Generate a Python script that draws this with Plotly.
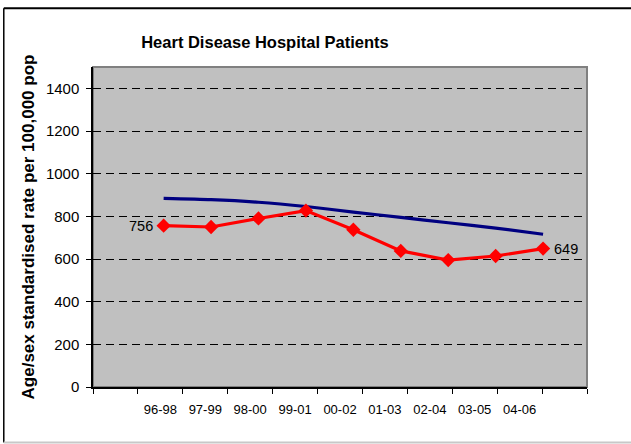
import plotly.graph_objects as go

periods = ["96-98", "97-99", "98-00", "99-01", "00-02", "01-03", "02-04", "03-05", "04-06"]
patients = [756, 750, 790, 827, 737, 638, 595, 614, 649]
trend = [884, 878, 866, 846, 820, 795, 770, 745, 716]
y_ticks = [0, 200, 400, 600, 800, 1000, 1200, 1400]

idx = list(range(len(periods)))
FONT = "Liberation Sans, Arial, sans-serif"

# data axis range; the category band axis is 11 equal slots over the same width
X_LO, X_HI = -1.489, 8.926
SLOT = (X_HI - X_LO) / 11
label_pos = [X_LO + SLOT * (i + 1.5) for i in idx]

fig = go.Figure()
fig.add_trace(go.Scatter(
    x=idx, y=trend, mode="lines",
    line=dict(color="#000080", width=3.2, shape="spline", smoothing=0.6),
    showlegend=False, hoverinfo="skip"))
fig.add_trace(go.Scatter(
    x=idx, y=patients, mode="lines+markers",
    line=dict(color="#FF0000", width=3.2),
    marker=dict(symbol="diamond", size=11, color="#FF0000"),
    showlegend=False))

fig.add_annotation(x=idx[0], y=patients[0], text=str(patients[0]),
                   showarrow=False, xshift=-23, font=dict(family=FONT, size=14.5, color="black"))
fig.add_annotation(x=idx[-1], y=patients[-1], text=str(patients[-1]),
                   showarrow=False, xshift=23, font=dict(family=FONT, size=14.5, color="black"))

# plot frame (gray top/right)
fig.add_shape(type="rect", xref="paper", yref="paper", x0=0, x1=1, y0=0, y1=1,
              line=dict(color="#808080", width=2), layer="below")
# outer chart frame
fig.add_shape(type="line", xref="paper", yref="paper", x0=-0.1806, x1=-0.1806, y0=-0.1733, y1=1.1833,
              line=dict(color="black", width=1.5))
fig.add_shape(type="line", xref="paper", yref="paper", x0=-0.1806, x1=1.2, y0=1.1833, y1=1.1833,
              line=dict(color="black", width=2))
fig.add_shape(type="line", xref="paper", yref="paper", x0=-0.1806, x1=1.2, y0=-0.1733, y1=-0.1733,
              line=dict(color="#c8c8c8", width=2))

fig.update_layout(
    width=631, height=444, autosize=False,
    margin=dict(l=93, r=44, t=67, b=57),
    paper_bgcolor="white", plot_bgcolor="#C0C0C0",
    font=dict(family=FONT, color="black"),
    title=dict(text="<b>Heart Disease Hospital Patients</b>", x=265/631, xanchor="center",
               y=1 - 42/444, yanchor="middle", font=dict(size=16.5, family=FONT)),
    xaxis=dict(
        type="linear", range=[X_LO, X_HI], tickmode="array", tickvals=label_pos, ticktext=periods,
        ticks="outside", ticklen=0, showgrid=False, zeroline=False,
        showline=True, linecolor="black", linewidth=1.5,
        tickfont=dict(size=13, family=FONT), ticklabelstandoff=10,
        minor=dict(tickmode="linear", tick0=X_LO, dtick=SLOT, ticks="outside", ticklen=5,
                   tickcolor="black", tickwidth=1, showgrid=False),
    ),
    yaxis=dict(
        type="linear", range=[0, 1500], tickmode="array", tickvals=y_ticks,
        ticks="outside", ticklen=5, tickcolor="black",
        showgrid=True, gridcolor="black", gridwidth=1, griddash="8px,5px",
        zeroline=False, showline=True, linecolor="black", linewidth=1.5,
        tickfont=dict(size=15, family=FONT), ticklabelstandoff=4,
        title=dict(text="<b>Age/sex standardised rate per 100,000 pop</b>",
                   font=dict(size=17, family=FONT), standoff=7),
    ),
)

fig.write_html("out.html", config={"displayModeBar": False},
               post_script="document.body.style.margin='0';")
